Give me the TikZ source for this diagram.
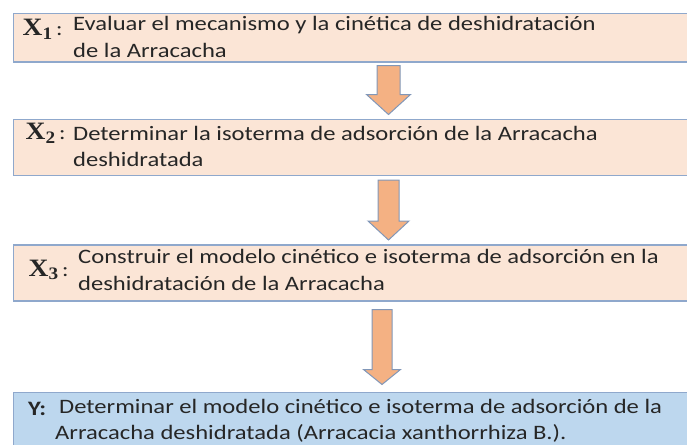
\documentclass[tikz,border=0pt]{standalone}
\usepackage[no-math]{fontspec}
\setmainfont{Carlito}[FakeStretch=1.2]
\newfontfamily\serifx{Liberation Serif}[FakeStretch=1.1]
\usepackage{tikz}
\usetikzlibrary{calc,positioning}
\definecolor{LightPeach}{RGB}{251,229,214}
\definecolor{PaleBlue}{RGB}{189,215,238}
\definecolor{ArrowOrange}{RGB}{244,177,131}
\definecolor{EdgeBlue}{RGB}{143,168,204}
\definecolor{InkGray}{RGB}{38,38,38}

%% block arrow: top point, tip point, half shaft, half head, head length
\newcommand{\flecha}[5]{%
  \draw[flecha] let \p1=(#1), \p2=(#2) in
    (\x1-#3,\y1) -- (\x1+#3,\y1) -- (\x1+#3,\y2+#5) -- (\x1+#4,\y2+#5)
    -- (\x2,\y2) -- (\x1-#4,\y2+#5) -- (\x1-#3,\y2+#5) -- cycle;}
\newcommand{\varx}[1]{{\serifx\bfseries X\textsubscript{#1}}{\fontsize{20}{24}\selectfont\,:}}

\begin{document}
\begin{tikzpicture}[x=1pt, y=1pt, text=InkGray,
    every node/.style={inner sep=0pt},
    caja/.style 2 args={rectangle, minimum width=676.5pt, minimum height=#1,
                         fill=#2, draw=EdgeBlue, line width=1.5pt},
    xlabel/.style={anchor=base west, font=\fontsize{25}{28}\selectfont},
    texto/.style={anchor=base west, align=left, font=\fontsize{20.5}{26.5}\selectfont},
    flecha/.style={fill=ArrowOrange, draw=EdgeBlue!90!black, line width=1pt, line join=miter}]
  \useasboundingbox (0,0) rectangle (687,-444);
  %% Boxes
  \node [caja={48pt}{LightPeach}, anchor=north west] (b1) at (12.5,-13) {};
  \node [caja={56pt}{LightPeach}, below=56pt of b1.south west, anchor=north west] (b2) {};
  \node [caja={56pt}{LightPeach}, below=68pt of b2.south west, anchor=north west] (b3) {};
  \node [caja={60pt}{PaleBlue}, below=90pt of b3.south west, anchor=north west] (b4) {};

  %% Texts (anchored at the baseline of the last line)
  \node [xlabel] (x1) at ($(b1.north west)+(10,-23)$) {\varx{1}};
  \node [texto] (t1) at ($(b1.north west)+(60.5,-44)$)
        {Evaluar el mecanismo y la cinética de deshidratación\\de la Arracacha};
  \node [xlabel] (x2) at ($(b2.north west)+(13,-21)$) {\varx{2}};
  \node [texto] (t2) at ($(b2.north west)+(60.5,-48)$)
        {Determinar la isoterma de adsorción de la Arracacha\\deshidratada};
  \node [xlabel] (x3) at ($(b3.north west)+(16,-32)$) {\varx{3}};
  \node [texto] (t3) at ($(b3.north west)+(65.5,-46)$)
        {Construir el modelo cinético e isoterma de adsorción en la\\deshidratación de la Arracacha};
  \node [texto, font=\fontsize{20.5}{26.5}\selectfont\bfseries] (y) at ($(b4.north west)+(15.5,-24)$) {Y:};
  \node [texto] (t4) at ($(b4.north west)+(42.5,-48)$)
        {\hspace*{4pt}Determinar el modelo cinético e isoterma de adsorción de la\\Arracacha deshidratada (Arracacia xanthorrhiza B.).};

  %% Arrows
  \coordinate (a1top) at ($(b1.south -| 388.5,0)+(0,-3)$);
  \coordinate (a1tip) at ($(b2.north -| 388.5,0)+(0,4)$);
  \coordinate (a2top) at ($(b2.south -| 388.5,0)+(0,-4)$);
  \coordinate (a2tip) at ($(b3.north -| 388.5,0)+(0,4)$);
  \coordinate (a3top) at ($(b3.south -| 382,0)+(0,-8)$);
  \coordinate (a3tip) at ($(b4.north -| 382,0)+(0,7)$);
  \flecha{a1top}{a1tip}{11.5}{22}{20}
  \flecha{a2top}{a2tip}{10.5}{20.5}{19}
  \flecha{a3top}{a3tip}{10}{18.5}{15}
\end{tikzpicture}
\end{document}
